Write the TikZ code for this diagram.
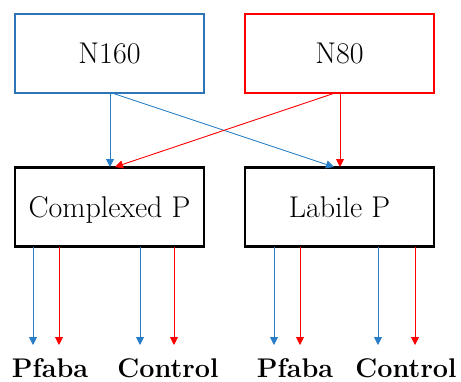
\documentclass[tikz,border=0pt]{standalone}
\usetikzlibrary{arrows.meta}
\definecolor{bluebox}{RGB}{46,117,182}
\definecolor{bluearr}{RGB}{40,125,200}
\definecolor{redc}{RGB}{255,0,0}
\begin{document}
\begin{tikzpicture}[x=1pt,y=-1pt,
  boxstyle/.style={draw, line width=2pt, minimum width=189pt, minimum height=79pt, inner sep=0pt, text height=20pt, text depth=0pt, font=\fontsize{30}{33}\selectfont},
  barrow/.style={draw=bluearr, line width=0.9pt, -{Triangle[width=8pt,length=8pt]}},
  rarrow/.style={draw=redc, line width=0.9pt, -{Triangle[width=8pt,length=8pt]}},
  lab/.style={font=\fontsize{27}{30}\selectfont\bfseries, inner sep=0pt, anchor=base}]
\useasboundingbox (0,0) rectangle (461,381);
\node[boxstyle, draw=bluebox] (n160) at (109.5,53.5) {N160};
\node[boxstyle, draw=redc] (n80) at (339.5,53.5) {N80};
\node[boxstyle, draw=black, line width=2.5pt] (cp) at (109.5,207) {Complexed P};
\node[boxstyle, draw=black, line width=2.5pt] (lp) at (339.5,207) {Labile P};
% top arrows
\coordinate (a1) at (110,93);
\coordinate (a2) at (112,93);
\coordinate (a3) at (335,93);
\coordinate (a4) at (340,93);
\coordinate (b1) at (110,167);
\coordinate (b2) at (334,167);
\coordinate (b3) at (115,167);
\coordinate (b4) at (340,167);
\draw[barrow] (a1) -- (b1);
\draw[barrow] (a2) -- (b2);
\draw[rarrow] (a3) -- (b3);
\draw[rarrow] (a4) -- (b4);
% bottom labels
\node[lab] (l1) at (50,377) {Pfaba};
\node[lab] (l2) at (168,377) {Control};
\node[lab] (l3) at (295,377) {Pfaba};
\node[lab] (l4) at (406,377) {Control};
% bottom arrows
\foreach \x/\s in {33/barrow,59/rarrow,140/barrow,174/rarrow,274/barrow,300/rarrow,378/barrow,415/rarrow}{
  \coordinate (s\x) at (\x,247);
  \coordinate (e\x) at (\x,345);
  \draw[\s] (s\x) -- (e\x);
}
\end{tikzpicture}
\end{document}
